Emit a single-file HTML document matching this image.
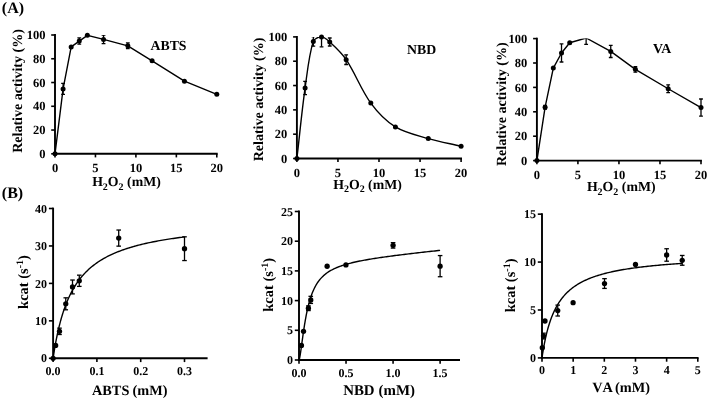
<!DOCTYPE html>
<html><head><meta charset="utf-8"><style>
html,body{margin:0;padding:0;background:#fff;overflow:hidden;}
svg{display:block;will-change:transform;}
svg text{font-family:"Liberation Serif", serif;font-weight:bold;fill:#000;stroke:none;text-rendering:geometricPrecision;}
svg text.nk{font-kerning:none;}
circle{stroke:none;}
</style></head><body>
<svg width="708" height="400" viewBox="0 0 708 400">
<rect width="708" height="400" fill="#fff"/>
<g stroke="#000" fill="#000">
<line x1="54.1" y1="153.8" x2="217.7" y2="153.8" stroke-width="1.9"/>
<line x1="55" y1="154.7" x2="55" y2="34.1" stroke-width="1.9"/>
<line x1="51.2" y1="153.8" x2="55" y2="153.8" stroke-width="1.6"/>
<text x="45.4" y="158" font-size="12.5" text-anchor="end" >0</text>
<line x1="51.2" y1="130.04" x2="55" y2="130.04" stroke-width="1.6"/>
<text x="45.4" y="134.24" font-size="12.5" text-anchor="end" >20</text>
<line x1="51.2" y1="106.28" x2="55" y2="106.28" stroke-width="1.6"/>
<text x="45.4" y="110.48" font-size="12.5" text-anchor="end" >40</text>
<line x1="51.2" y1="82.52" x2="55" y2="82.52" stroke-width="1.6"/>
<text x="45.4" y="86.72" font-size="12.5" text-anchor="end" >60</text>
<line x1="51.2" y1="58.76" x2="55" y2="58.76" stroke-width="1.6"/>
<text x="45.4" y="62.96" font-size="12.5" text-anchor="end" >80</text>
<line x1="51.2" y1="35" x2="55" y2="35" stroke-width="1.6"/>
<text x="45.4" y="39.2" font-size="12.5" text-anchor="end" >100</text>
<line x1="55" y1="153.8" x2="55" y2="157.4" stroke-width="1.6"/>
<text x="55" y="171.9" font-size="12.5" text-anchor="middle" >0</text>
<line x1="95.45" y1="153.8" x2="95.45" y2="157.4" stroke-width="1.6"/>
<text x="95.45" y="171.9" font-size="12.5" text-anchor="middle" >5</text>
<line x1="135.9" y1="153.8" x2="135.9" y2="157.4" stroke-width="1.6"/>
<text x="135.9" y="171.9" font-size="12.5" text-anchor="middle" >10</text>
<line x1="176.35" y1="153.8" x2="176.35" y2="157.4" stroke-width="1.6"/>
<text x="176.35" y="171.9" font-size="12.5" text-anchor="middle" >15</text>
<line x1="216.8" y1="153.8" x2="216.8" y2="157.4" stroke-width="1.6"/>
<text x="216.8" y="171.9" font-size="12.5" text-anchor="middle" >20</text>
<text transform="translate(22.3,91) rotate(-90)" font-size="14" text-anchor="middle">Relative activity (%)</text>
<text x="126.45" y="186.3" font-size="13.8" text-anchor="middle">H<tspan font-size="10" dy="3.6">2</tspan><tspan dy="-3.6">O</tspan><tspan font-size="10" dy="3.6">2</tspan><tspan dy="-3.6"> (mM)</tspan></text>
<clipPath id="c1"><rect x="45" y="35" width="181.8" height="128.8"/></clipPath>
<g clip-path="url(#c1)">
<polyline fill="none" stroke-width="1.4" stroke-linejoin="round" points="55,153.8 63.09,88.94 71.18,46.88 79.27,41.06 87.36,35.36 103.54,39.4 127.81,45.81 152.08,60.78 184.44,81.21 216.8,94.28"/>
<line x1="63.09" y1="83.47" x2="63.09" y2="94.4" stroke-width="1.3"/>
<line x1="61.19" y1="83.47" x2="64.99" y2="83.47" stroke-width="1.3"/>
<line x1="61.19" y1="94.4" x2="64.99" y2="94.4" stroke-width="1.3"/>
<line x1="79.27" y1="37.97" x2="79.27" y2="44.15" stroke-width="1.3"/>
<line x1="77.37" y1="37.97" x2="81.17" y2="37.97" stroke-width="1.3"/>
<line x1="77.37" y1="44.15" x2="81.17" y2="44.15" stroke-width="1.3"/>
<line x1="103.54" y1="35.12" x2="103.54" y2="43.67" stroke-width="1.3"/>
<line x1="101.64" y1="35.12" x2="105.44" y2="35.12" stroke-width="1.3"/>
<line x1="101.64" y1="43.67" x2="105.44" y2="43.67" stroke-width="1.3"/>
<line x1="127.81" y1="42.96" x2="127.81" y2="48.66" stroke-width="1.3"/>
<line x1="125.91" y1="42.96" x2="129.71" y2="42.96" stroke-width="1.3"/>
<line x1="125.91" y1="48.66" x2="129.71" y2="48.66" stroke-width="1.3"/>
</g>
<circle cx="55" cy="153.8" r="2.5"/>
<circle cx="63.09" cy="88.94" r="2.5"/>
<circle cx="71.18" cy="46.88" r="2.5"/>
<circle cx="79.27" cy="41.06" r="2.5"/>
<circle cx="87.36" cy="35.36" r="2.5"/>
<circle cx="103.54" cy="39.4" r="2.5"/>
<circle cx="127.81" cy="45.81" r="2.5"/>
<circle cx="152.08" cy="60.78" r="2.5"/>
<circle cx="184.44" cy="81.21" r="2.5"/>
<circle cx="216.8" cy="94.28" r="2.5"/>
<text x="150.5" y="50.1" font-size="13.8" text-anchor="start" >ABTS</text>
<line x1="296" y1="158.5" x2="462" y2="158.5" stroke-width="1.9"/>
<line x1="296.9" y1="159.4" x2="296.9" y2="36" stroke-width="1.9"/>
<line x1="293.1" y1="158.5" x2="296.9" y2="158.5" stroke-width="1.6"/>
<text x="287.3" y="162.7" font-size="12.5" text-anchor="end" >0</text>
<line x1="293.1" y1="134.18" x2="296.9" y2="134.18" stroke-width="1.6"/>
<text x="287.3" y="138.38" font-size="12.5" text-anchor="end" >20</text>
<line x1="293.1" y1="109.86" x2="296.9" y2="109.86" stroke-width="1.6"/>
<text x="287.3" y="114.06" font-size="12.5" text-anchor="end" >40</text>
<line x1="293.1" y1="85.54" x2="296.9" y2="85.54" stroke-width="1.6"/>
<text x="287.3" y="89.74" font-size="12.5" text-anchor="end" >60</text>
<line x1="293.1" y1="61.22" x2="296.9" y2="61.22" stroke-width="1.6"/>
<text x="287.3" y="65.42" font-size="12.5" text-anchor="end" >80</text>
<line x1="293.1" y1="36.9" x2="296.9" y2="36.9" stroke-width="1.6"/>
<text x="287.3" y="41.1" font-size="12.5" text-anchor="end" >100</text>
<line x1="296.9" y1="158.5" x2="296.9" y2="162.1" stroke-width="1.6"/>
<text x="296.9" y="176.6" font-size="12.5" text-anchor="middle" >0</text>
<line x1="337.95" y1="158.5" x2="337.95" y2="162.1" stroke-width="1.6"/>
<text x="337.95" y="176.6" font-size="12.5" text-anchor="middle" >5</text>
<line x1="379" y1="158.5" x2="379" y2="162.1" stroke-width="1.6"/>
<text x="379" y="176.6" font-size="12.5" text-anchor="middle" >10</text>
<line x1="420.05" y1="158.5" x2="420.05" y2="162.1" stroke-width="1.6"/>
<text x="420.05" y="176.6" font-size="12.5" text-anchor="middle" >15</text>
<line x1="461.1" y1="158.5" x2="461.1" y2="162.1" stroke-width="1.6"/>
<text x="461.1" y="176.6" font-size="12.5" text-anchor="middle" >20</text>
<text transform="translate(263.3,99.5) rotate(-90)" font-size="14" text-anchor="middle">Relative activity (%)</text>
<text x="367.5" y="188.6" font-size="13.8" text-anchor="middle">H<tspan font-size="10" dy="3.6">2</tspan><tspan dy="-3.6">O</tspan><tspan font-size="10" dy="3.6">2</tspan><tspan dy="-3.6"> (mM)</tspan></text>
<clipPath id="c2"><rect x="286.9" y="36.9" width="184.2" height="131.6"/></clipPath>
<g clip-path="url(#c2)">
<path d="M296.9,158.5 C299.64,134.99 301.82,111.4 305.11,87.97 C307.3,72.37 308.75,55.61 313.32,41.4 C314.22,38.59 318.84,36.8 321.53,36.9 C324.31,37 327.39,39.84 329.74,42.01 C335.6,47.42 341.71,53.01 346.16,59.64 C355.39,73.36 361.05,89.76 370.79,103.05 C377.47,112.18 385.92,121.02 395.42,126.88 C405.08,132.85 417.13,135.28 428.26,138.56 C439.03,141.73 450.15,143.66 461.1,146.22" fill="none" stroke-width="1.4"/>
<line x1="305.11" y1="81.28" x2="305.11" y2="94.66" stroke-width="1.3"/>
<line x1="303.21" y1="81.28" x2="307.01" y2="81.28" stroke-width="1.3"/>
<line x1="303.21" y1="94.66" x2="307.01" y2="94.66" stroke-width="1.3"/>
<line x1="313.32" y1="36.66" x2="313.32" y2="46.14" stroke-width="1.3"/>
<line x1="311.42" y1="36.66" x2="315.22" y2="36.66" stroke-width="1.3"/>
<line x1="311.42" y1="46.14" x2="315.22" y2="46.14" stroke-width="1.3"/>
<line x1="321.53" y1="26.93" x2="321.53" y2="46.87" stroke-width="1.3"/>
<line x1="319.63" y1="26.93" x2="323.43" y2="26.93" stroke-width="1.3"/>
<line x1="319.63" y1="46.87" x2="323.43" y2="46.87" stroke-width="1.3"/>
<line x1="329.74" y1="37.99" x2="329.74" y2="46.02" stroke-width="1.3"/>
<line x1="327.84" y1="37.99" x2="331.64" y2="37.99" stroke-width="1.3"/>
<line x1="327.84" y1="46.02" x2="331.64" y2="46.02" stroke-width="1.3"/>
<line x1="346.16" y1="54.78" x2="346.16" y2="64.5" stroke-width="1.3"/>
<line x1="344.26" y1="54.78" x2="348.06" y2="54.78" stroke-width="1.3"/>
<line x1="344.26" y1="64.5" x2="348.06" y2="64.5" stroke-width="1.3"/>
</g>
<circle cx="296.9" cy="158.5" r="2.5"/>
<circle cx="305.11" cy="87.97" r="2.5"/>
<circle cx="313.32" cy="41.4" r="2.5"/>
<circle cx="321.53" cy="36.9" r="2.5"/>
<circle cx="329.74" cy="42.01" r="2.5"/>
<circle cx="346.16" cy="59.64" r="2.5"/>
<circle cx="370.79" cy="103.05" r="2.5"/>
<circle cx="395.42" cy="126.88" r="2.5"/>
<circle cx="428.26" cy="138.56" r="2.5"/>
<circle cx="461.1" cy="146.22" r="2.5"/>
<text x="407" y="54" font-size="13.8" text-anchor="start" >NBD</text>
<line x1="536" y1="160.6" x2="701.9" y2="160.6" stroke-width="1.9"/>
<line x1="536.9" y1="161.5" x2="536.9" y2="37.7" stroke-width="1.9"/>
<line x1="533.1" y1="160.6" x2="536.9" y2="160.6" stroke-width="1.6"/>
<text x="527.3" y="164.8" font-size="12.5" text-anchor="end" >0</text>
<line x1="533.1" y1="136.2" x2="536.9" y2="136.2" stroke-width="1.6"/>
<text x="527.3" y="140.4" font-size="12.5" text-anchor="end" >20</text>
<line x1="533.1" y1="111.8" x2="536.9" y2="111.8" stroke-width="1.6"/>
<text x="527.3" y="116" font-size="12.5" text-anchor="end" >40</text>
<line x1="533.1" y1="87.4" x2="536.9" y2="87.4" stroke-width="1.6"/>
<text x="527.3" y="91.6" font-size="12.5" text-anchor="end" >60</text>
<line x1="533.1" y1="63" x2="536.9" y2="63" stroke-width="1.6"/>
<text x="527.3" y="67.2" font-size="12.5" text-anchor="end" >80</text>
<line x1="533.1" y1="38.6" x2="536.9" y2="38.6" stroke-width="1.6"/>
<text x="527.3" y="42.8" font-size="12.5" text-anchor="end" >100</text>
<line x1="536.9" y1="160.6" x2="536.9" y2="164.2" stroke-width="1.6"/>
<text x="536.9" y="178.7" font-size="12.5" text-anchor="middle" >0</text>
<line x1="577.92" y1="160.6" x2="577.92" y2="164.2" stroke-width="1.6"/>
<text x="577.92" y="178.7" font-size="12.5" text-anchor="middle" >5</text>
<line x1="618.95" y1="160.6" x2="618.95" y2="164.2" stroke-width="1.6"/>
<text x="618.95" y="178.7" font-size="12.5" text-anchor="middle" >10</text>
<line x1="659.98" y1="160.6" x2="659.98" y2="164.2" stroke-width="1.6"/>
<text x="659.98" y="178.7" font-size="12.5" text-anchor="middle" >15</text>
<line x1="701" y1="160.6" x2="701" y2="164.2" stroke-width="1.6"/>
<text x="701" y="178.7" font-size="12.5" text-anchor="middle" >20</text>
<text transform="translate(505.8,104.25) rotate(-90)" font-size="14" text-anchor="middle">Relative activity (%)</text>
<text x="621.2" y="191" font-size="13.8" text-anchor="middle">H<tspan font-size="10" dy="3.6">2</tspan><tspan dy="-3.6">O</tspan><tspan font-size="10" dy="3.6">2</tspan><tspan dy="-3.6"> (mM)</tspan></text>
<clipPath id="c3"><rect x="526.9" y="38.6" width="184.1" height="132"/></clipPath>
<g clip-path="url(#c3)">
<polyline fill="none" stroke-width="1.4" stroke-linejoin="round" points="536.9,160.6 545.11,107.16 553.31,68.12 561.51,53 569.72,42.75 586.13,37.99 610.75,51.41 635.36,69.34 668.18,88.74 701,107.53"/>
<line x1="545.11" y1="105.33" x2="545.11" y2="108.99" stroke-width="1.3"/>
<line x1="543.21" y1="105.33" x2="547" y2="105.33" stroke-width="1.3"/>
<line x1="543.21" y1="108.99" x2="547" y2="108.99" stroke-width="1.3"/>
<line x1="561.51" y1="43.97" x2="561.51" y2="62.02" stroke-width="1.3"/>
<line x1="559.62" y1="43.97" x2="563.41" y2="43.97" stroke-width="1.3"/>
<line x1="559.62" y1="62.02" x2="563.41" y2="62.02" stroke-width="1.3"/>
<line x1="586.13" y1="31.52" x2="586.13" y2="44.46" stroke-width="1.3"/>
<line x1="584.23" y1="31.52" x2="588.03" y2="31.52" stroke-width="1.3"/>
<line x1="584.23" y1="44.46" x2="588.03" y2="44.46" stroke-width="1.3"/>
<line x1="610.75" y1="45.31" x2="610.75" y2="57.51" stroke-width="1.3"/>
<line x1="608.85" y1="45.31" x2="612.64" y2="45.31" stroke-width="1.3"/>
<line x1="608.85" y1="57.51" x2="612.64" y2="57.51" stroke-width="1.3"/>
<line x1="635.36" y1="66.54" x2="635.36" y2="72.15" stroke-width="1.3"/>
<line x1="633.46" y1="66.54" x2="637.26" y2="66.54" stroke-width="1.3"/>
<line x1="633.46" y1="72.15" x2="637.26" y2="72.15" stroke-width="1.3"/>
<line x1="668.18" y1="84.84" x2="668.18" y2="92.65" stroke-width="1.3"/>
<line x1="666.28" y1="84.84" x2="670.08" y2="84.84" stroke-width="1.3"/>
<line x1="666.28" y1="92.65" x2="670.08" y2="92.65" stroke-width="1.3"/>
<line x1="701" y1="98.99" x2="701" y2="116.07" stroke-width="1.3"/>
<line x1="699.1" y1="98.99" x2="702.9" y2="98.99" stroke-width="1.3"/>
<line x1="699.1" y1="116.07" x2="702.9" y2="116.07" stroke-width="1.3"/>
</g>
<circle cx="536.9" cy="160.6" r="2.5"/>
<circle cx="545.11" cy="107.16" r="2.5"/>
<circle cx="553.31" cy="68.12" r="2.5"/>
<circle cx="561.51" cy="53" r="2.5"/>
<circle cx="569.72" cy="42.75" r="2.5"/>
<circle cx="610.75" cy="51.41" r="2.5"/>
<circle cx="635.36" cy="69.34" r="2.5"/>
<circle cx="668.18" cy="88.74" r="2.5"/>
<circle cx="701" cy="107.53" r="2.5"/>
<text x="653" y="53.3" font-size="13.8" text-anchor="start" >VA</text>
<line x1="52.2" y1="358.3" x2="207.6" y2="358.3" stroke-width="1.9"/>
<line x1="53.1" y1="359.2" x2="53.1" y2="207.6" stroke-width="1.9"/>
<line x1="48.9" y1="358.3" x2="53.1" y2="358.3" stroke-width="1.6"/>
<text x="47" y="362.4" font-size="12" text-anchor="end" >0</text>
<line x1="48.9" y1="320.85" x2="53.1" y2="320.85" stroke-width="1.6"/>
<text x="47" y="324.95" font-size="12" text-anchor="end" >10</text>
<line x1="48.9" y1="283.4" x2="53.1" y2="283.4" stroke-width="1.6"/>
<text x="47" y="287.5" font-size="12" text-anchor="end" >20</text>
<line x1="48.9" y1="245.95" x2="53.1" y2="245.95" stroke-width="1.6"/>
<text x="47" y="250.05" font-size="12" text-anchor="end" >30</text>
<line x1="48.9" y1="208.5" x2="53.1" y2="208.5" stroke-width="1.6"/>
<text x="47" y="212.6" font-size="12" text-anchor="end" >40</text>
<line x1="53.1" y1="358.3" x2="53.1" y2="362.1" stroke-width="1.6"/>
<text x="53.1" y="374.8" font-size="12" text-anchor="middle" >0.0</text>
<line x1="96.9" y1="358.3" x2="96.9" y2="362.1" stroke-width="1.6"/>
<text x="96.9" y="374.8" font-size="12" text-anchor="middle" >0.1</text>
<line x1="140.7" y1="358.3" x2="140.7" y2="362.1" stroke-width="1.6"/>
<text x="140.7" y="374.8" font-size="12" text-anchor="middle" >0.2</text>
<line x1="184.5" y1="358.3" x2="184.5" y2="362.1" stroke-width="1.6"/>
<text x="184.5" y="374.8" font-size="12" text-anchor="middle" >0.3</text>
<text transform="translate(28.3,282) rotate(-90)" font-size="14.5" text-anchor="middle">kcat (s<tspan font-size="10" dy="-5.5">-1</tspan><tspan dy="5.5">)</tspan></text>
<text class="nk" x="92" y="394.9" font-size="14.3" text-anchor="start">ABTS<tspan x="132.5">(mM)</tspan></text>
<polyline fill="none" stroke-width="1.4" points="53.1,358.3 53.11,358.27 53.12,358.16 53.15,357.99 53.18,357.74 53.23,357.43 53.28,357.05 53.35,356.61 53.43,356.1 53.52,355.53 53.61,354.89 53.72,354.2 53.84,353.44 53.97,352.63 54.11,351.77 54.25,350.85 54.41,349.89 54.58,348.88 54.76,347.82 54.95,346.73 55.15,345.59 55.36,344.41 55.58,343.21 55.82,341.97 56.06,340.7 56.31,339.4 56.57,338.08 56.84,336.74 57.12,335.38 57.42,334 57.72,332.61 58.03,331.2 58.36,329.78 58.69,328.36 59.03,326.93 59.39,325.5 59.75,324.06 60.13,322.62 60.51,321.18 60.91,319.74 61.31,318.31 61.73,316.88 62.15,315.46 62.59,314.05 63.04,312.64 63.49,311.25 63.96,309.86 64.44,308.49 64.93,307.13 65.42,305.78 65.93,304.44 66.45,303.12 66.98,301.82 67.52,300.53 68.07,299.25 68.63,297.99 69.2,296.75 69.78,295.52 70.37,294.31 70.97,293.12 71.58,291.94 72.2,290.79 72.83,289.65 73.47,288.52 74.12,287.42 74.79,286.33 75.46,285.26 76.14,284.2 76.83,283.17 77.54,282.15 78.25,281.15 78.97,280.16 79.71,279.19 80.45,278.24 81.21,277.31 81.97,276.39 82.75,275.49 83.53,274.6 84.33,273.73 85.13,272.88 85.95,272.04 86.78,271.21 87.61,270.4 88.46,269.61 89.32,268.83 90.18,268.06 91.06,267.31 91.95,266.57 92.85,265.85 93.76,265.14 94.68,264.44 95.6,263.75 96.54,263.08 97.49,262.42 98.45,261.77 99.42,261.13 100.4,260.51 101.39,259.9 102.4,259.3 103.41,258.7 104.43,258.12 105.46,257.56 106.5,257 107.55,256.45 108.62,255.91 109.69,255.38 110.77,254.86 111.87,254.35 112.97,253.85 114.08,253.36 115.21,252.88 116.34,252.41 117.49,251.94 118.64,251.48 119.81,251.04 120.98,250.6 122.17,250.16 123.36,249.74 124.57,249.32 125.79,248.91 127.01,248.51 128.25,248.11 129.5,247.72 130.75,247.34 132.02,246.96 133.3,246.6 134.59,246.23 135.89,245.88 137.2,245.53 138.52,245.18 139.84,244.84 141.18,244.51 142.53,244.19 143.89,243.86 145.26,243.55 146.65,243.24 148.04,242.93 149.44,242.63 150.85,242.34 152.27,242.05 153.7,241.76 155.15,241.48 156.6,241.2 158.06,240.93 159.53,240.66 161.02,240.4 162.51,240.14 164.01,239.89 165.53,239.64 167.05,239.39 168.59,239.15 170.13,238.91 171.69,238.67 173.25,238.44 174.83,238.21 176.42,237.99 178.01,237.77 179.62,237.55 181.24,237.34 182.86,237.13 184.5,236.92"/>
<line x1="59.49" y1="328.15" x2="59.49" y2="334.52" stroke-width="1.3"/>
<line x1="57.19" y1="328.15" x2="61.79" y2="328.15" stroke-width="1.3"/>
<line x1="57.19" y1="334.52" x2="61.79" y2="334.52" stroke-width="1.3"/>
<line x1="65.76" y1="297.82" x2="65.76" y2="309.8" stroke-width="1.3"/>
<line x1="63.46" y1="297.82" x2="68.06" y2="297.82" stroke-width="1.3"/>
<line x1="63.46" y1="309.8" x2="68.06" y2="309.8" stroke-width="1.3"/>
<line x1="72.5" y1="280.03" x2="72.5" y2="293.89" stroke-width="1.3"/>
<line x1="70.2" y1="280.03" x2="74.8" y2="280.03" stroke-width="1.3"/>
<line x1="70.2" y1="293.89" x2="74.8" y2="293.89" stroke-width="1.3"/>
<line x1="79.29" y1="275.16" x2="79.29" y2="286.4" stroke-width="1.3"/>
<line x1="76.99" y1="275.16" x2="81.59" y2="275.16" stroke-width="1.3"/>
<line x1="76.99" y1="286.4" x2="81.59" y2="286.4" stroke-width="1.3"/>
<line x1="118.71" y1="230.03" x2="118.71" y2="246.14" stroke-width="1.3"/>
<line x1="116.41" y1="230.03" x2="121.01" y2="230.03" stroke-width="1.3"/>
<line x1="116.41" y1="246.14" x2="121.01" y2="246.14" stroke-width="1.3"/>
<line x1="184.5" y1="236.81" x2="184.5" y2="260.56" stroke-width="1.3"/>
<line x1="182.2" y1="236.81" x2="186.8" y2="236.81" stroke-width="1.3"/>
<line x1="182.2" y1="260.56" x2="186.8" y2="260.56" stroke-width="1.3"/>
<circle cx="53.1" cy="358.3" r="2.65"/>
<circle cx="55.64" cy="345.42" r="2.65"/>
<circle cx="59.49" cy="331.34" r="2.65"/>
<circle cx="65.76" cy="303.81" r="2.65"/>
<circle cx="72.5" cy="286.96" r="2.65"/>
<circle cx="79.29" cy="280.78" r="2.65"/>
<circle cx="118.71" cy="238.09" r="2.65"/>
<circle cx="184.5" cy="248.68" r="2.65"/>
<line x1="298.1" y1="360" x2="460" y2="360" stroke-width="1.9"/>
<line x1="299" y1="360.9" x2="299" y2="210.6" stroke-width="1.9"/>
<line x1="294.8" y1="360" x2="299" y2="360" stroke-width="1.6"/>
<text x="292.9" y="364.1" font-size="12" text-anchor="end" >0</text>
<line x1="294.8" y1="330.3" x2="299" y2="330.3" stroke-width="1.6"/>
<text x="292.9" y="334.4" font-size="12" text-anchor="end" >5</text>
<line x1="294.8" y1="300.6" x2="299" y2="300.6" stroke-width="1.6"/>
<text x="292.9" y="304.7" font-size="12" text-anchor="end" >10</text>
<line x1="294.8" y1="270.9" x2="299" y2="270.9" stroke-width="1.6"/>
<text x="292.9" y="275" font-size="12" text-anchor="end" >15</text>
<line x1="294.8" y1="241.2" x2="299" y2="241.2" stroke-width="1.6"/>
<text x="292.9" y="245.3" font-size="12" text-anchor="end" >20</text>
<line x1="294.8" y1="211.5" x2="299" y2="211.5" stroke-width="1.6"/>
<text x="292.9" y="215.6" font-size="12" text-anchor="end" >25</text>
<line x1="299" y1="360" x2="299" y2="363.8" stroke-width="1.6"/>
<text x="299" y="376.5" font-size="12" text-anchor="middle" >0.0</text>
<line x1="346.03" y1="360" x2="346.03" y2="363.8" stroke-width="1.6"/>
<text x="346.03" y="376.5" font-size="12" text-anchor="middle" >0.5</text>
<line x1="393.07" y1="360" x2="393.07" y2="363.8" stroke-width="1.6"/>
<text x="393.07" y="376.5" font-size="12" text-anchor="middle" >1.0</text>
<line x1="440.11" y1="360" x2="440.11" y2="363.8" stroke-width="1.6"/>
<text x="440.11" y="376.5" font-size="12" text-anchor="middle" >1.5</text>
<text transform="translate(273.3,284.8) rotate(-90)" font-size="14.5" text-anchor="middle">kcat (s<tspan font-size="10" dy="-5.5">-1</tspan><tspan dy="5.5">)</tspan></text>
<text class="nk" x="343.2" y="394.8" font-size="14.9" text-anchor="start">NBD<tspan x="378.6">(mM)</tspan></text>
<polyline fill="none" stroke-width="1.4" points="299,360 299.01,360 299.02,359.99 299.05,359.95 299.09,359.89 299.14,359.78 299.2,359.63 299.27,359.42 299.35,359.14 299.45,358.78 299.55,358.33 299.67,357.79 299.79,357.16 299.93,356.41 300.08,355.56 300.24,354.59 300.41,353.51 300.59,352.32 300.79,351.01 300.99,349.59 301.2,348.06 301.43,346.43 301.67,344.7 301.92,342.89 302.17,341 302.44,339.04 302.73,337.02 303.02,334.95 303.32,332.84 303.64,330.7 303.96,328.54 304.3,326.38 304.64,324.21 305,322.06 305.37,319.92 305.75,317.81 306.14,315.72 306.55,313.68 306.96,311.68 307.38,309.72 307.82,307.81 308.27,305.95 308.72,304.15 309.19,302.4 309.67,300.71 310.16,299.07 310.66,297.5 311.18,295.98 311.7,294.51 312.23,293.1 312.78,291.75 313.34,290.45 313.9,289.2 314.48,287.99 315.07,286.84 315.67,285.74 316.29,284.68 316.91,283.66 317.54,282.68 318.19,281.75 318.84,280.85 319.51,279.99 320.19,279.16 320.88,278.37 321.58,277.61 322.29,276.88 323.01,276.18 323.74,275.5 324.49,274.85 325.24,274.23 326.01,273.63 326.79,273.05 327.57,272.49 328.37,271.95 329.18,271.43 330,270.93 330.84,270.45 331.68,269.99 332.53,269.53 333.4,269.1 334.28,268.68 335.16,268.27 336.06,267.87 336.97,267.49 337.89,267.11 338.82,266.75 339.77,266.4 340.72,266.05 341.68,265.72 342.66,265.4 343.65,265.08 344.64,264.77 345.65,264.47 346.67,264.17 347.7,263.88 348.75,263.6 349.8,263.33 350.86,263.06 351.94,262.79 353.02,262.53 354.12,262.28 355.23,262.03 356.35,261.78 357.48,261.54 358.62,261.3 359.77,261.06 360.93,260.83 362.11,260.6 363.29,260.38 364.49,260.16 365.69,259.94 366.91,259.72 368.14,259.51 369.38,259.3 370.63,259.09 371.9,258.88 373.17,258.67 374.45,258.47 375.75,258.27 377.05,258.07 378.37,257.87 379.7,257.67 381.04,257.47 382.39,257.28 383.75,257.08 385.12,256.89 386.51,256.7 387.9,256.51 389.31,256.32 390.72,256.13 392.15,255.94 393.59,255.75 395.04,255.56 396.5,255.38 397.97,255.19 399.45,255 400.95,254.82 402.45,254.63 403.97,254.45 405.5,254.26 407.03,254.08 408.58,253.89 410.14,253.71 411.71,253.52 413.3,253.34 414.89,253.15 416.49,252.97 418.11,252.78 419.73,252.6 421.37,252.41 423.02,252.23 424.68,252.04 426.35,251.86 428.03,251.67 429.72,251.49 431.42,251.3 433.14,251.11 434.86,250.93 436.6,250.74 438.35,250.55 440.11,250.36"/>
<line x1="308.41" y1="305.83" x2="308.41" y2="310.58" stroke-width="1.3"/>
<line x1="306.11" y1="305.83" x2="310.71" y2="305.83" stroke-width="1.3"/>
<line x1="306.11" y1="310.58" x2="310.71" y2="310.58" stroke-width="1.3"/>
<line x1="310.76" y1="296.32" x2="310.76" y2="303.45" stroke-width="1.3"/>
<line x1="308.46" y1="296.32" x2="313.06" y2="296.32" stroke-width="1.3"/>
<line x1="308.46" y1="303.45" x2="313.06" y2="303.45" stroke-width="1.3"/>
<line x1="393.07" y1="242.63" x2="393.07" y2="248.09" stroke-width="1.3"/>
<line x1="390.77" y1="242.63" x2="395.37" y2="242.63" stroke-width="1.3"/>
<line x1="390.77" y1="248.09" x2="395.37" y2="248.09" stroke-width="1.3"/>
<line x1="440.11" y1="255.57" x2="440.11" y2="276.72" stroke-width="1.3"/>
<line x1="437.81" y1="255.57" x2="442.41" y2="255.57" stroke-width="1.3"/>
<line x1="437.81" y1="276.72" x2="442.41" y2="276.72" stroke-width="1.3"/>
<circle cx="301.45" cy="345.45" r="2.65"/>
<circle cx="303.52" cy="331.31" r="2.65"/>
<circle cx="308.41" cy="308.2" r="2.65"/>
<circle cx="310.76" cy="299.89" r="2.65"/>
<circle cx="327.13" cy="266.27" r="2.65"/>
<circle cx="345.94" cy="264.96" r="2.65"/>
<circle cx="393.07" cy="245.36" r="2.65"/>
<circle cx="440.11" cy="266.15" r="2.65"/>
<line x1="541.1" y1="357.9" x2="698.6" y2="357.9" stroke-width="1.9"/>
<line x1="542" y1="358.8" x2="542" y2="213.25" stroke-width="1.9"/>
<line x1="537.8" y1="357.9" x2="542" y2="357.9" stroke-width="1.6"/>
<text x="535.9" y="362" font-size="12" text-anchor="end" >0</text>
<line x1="537.8" y1="309.98" x2="542" y2="309.98" stroke-width="1.6"/>
<text x="535.9" y="314.08" font-size="12" text-anchor="end" >5</text>
<line x1="537.8" y1="262.07" x2="542" y2="262.07" stroke-width="1.6"/>
<text x="535.9" y="266.17" font-size="12" text-anchor="end" >10</text>
<line x1="537.8" y1="214.15" x2="542" y2="214.15" stroke-width="1.6"/>
<text x="535.9" y="218.25" font-size="12" text-anchor="end" >15</text>
<line x1="542" y1="357.9" x2="542" y2="361.7" stroke-width="1.6"/>
<text x="542" y="374.4" font-size="12" text-anchor="middle" >0</text>
<line x1="573.16" y1="357.9" x2="573.16" y2="361.7" stroke-width="1.6"/>
<text x="573.16" y="374.4" font-size="12" text-anchor="middle" >1</text>
<line x1="604.32" y1="357.9" x2="604.32" y2="361.7" stroke-width="1.6"/>
<text x="604.32" y="374.4" font-size="12" text-anchor="middle" >2</text>
<line x1="635.48" y1="357.9" x2="635.48" y2="361.7" stroke-width="1.6"/>
<text x="635.48" y="374.4" font-size="12" text-anchor="middle" >3</text>
<line x1="666.64" y1="357.9" x2="666.64" y2="361.7" stroke-width="1.6"/>
<text x="666.64" y="374.4" font-size="12" text-anchor="middle" >4</text>
<line x1="697.8" y1="357.9" x2="697.8" y2="361.7" stroke-width="1.6"/>
<text x="697.8" y="374.4" font-size="12" text-anchor="middle" >5</text>
<text transform="translate(515.3,285.4) rotate(-90)" font-size="14.5" text-anchor="middle">kcat (s<tspan font-size="10" dy="-5.5">-1</tspan><tspan dy="5.5">)</tspan></text>
<text class="nk" x="592.3" y="392.3" font-size="14.3" text-anchor="start">VA<tspan x="615.1">(mM)</tspan></text>
<polyline fill="none" stroke-width="1.4" points="542,357.9 542.01,357.86 542.02,357.75 542.05,357.56 542.09,357.3 542.14,356.96 542.2,356.55 542.27,356.07 542.35,355.53 542.44,354.92 542.55,354.24 542.66,353.5 542.79,352.71 542.93,351.86 543.07,350.96 543.23,350.01 543.4,349.02 543.58,347.98 543.77,346.9 543.98,345.79 544.19,344.65 544.42,343.48 544.65,342.28 544.9,341.07 545.15,339.83 545.42,338.57 545.7,337.31 545.99,336.03 546.29,334.75 546.61,333.45 546.93,332.16 547.26,330.87 547.61,329.57 547.96,328.28 548.33,327 548.71,325.72 549.1,324.45 549.5,323.19 549.91,321.94 550.33,320.71 550.76,319.49 551.21,318.28 551.66,317.08 552.13,315.9 552.6,314.74 553.09,313.6 553.59,312.47 554.1,311.36 554.62,310.27 555.15,309.2 555.69,308.14 556.25,307.11 556.81,306.09 557.39,305.09 557.97,304.12 558.57,303.16 559.18,302.21 559.8,301.29 560.43,300.39 561.07,299.5 561.72,298.64 562.38,297.79 563.05,296.96 563.74,296.15 564.44,295.35 565.14,294.57 565.86,293.81 566.59,293.06 567.33,292.33 568.08,291.62 568.84,290.92 569.61,290.24 570.39,289.57 571.19,288.92 571.99,288.28 572.81,287.66 573.64,287.05 574.48,286.45 575.32,285.87 576.18,285.3 577.05,284.74 577.94,284.2 578.83,283.66 579.73,283.14 580.65,282.63 581.57,282.13 582.51,281.65 583.46,281.17 584.42,280.7 585.39,280.25 586.37,279.8 587.36,279.36 588.36,278.94 589.37,278.52 590.4,278.11 591.43,277.71 592.48,277.32 593.54,276.94 594.6,276.56 595.68,276.19 596.77,275.84 597.87,275.48 598.99,275.14 600.11,274.8 601.24,274.47 602.39,274.15 603.54,273.83 604.71,273.52 605.89,273.22 607.08,272.92 608.28,272.63 609.49,272.35 610.71,272.07 611.94,271.79 613.18,271.53 614.44,271.26 615.7,271 616.98,270.75 618.27,270.5 619.56,270.26 620.87,270.02 622.19,269.79 623.52,269.56 624.87,269.34 626.22,269.12 627.58,268.9 628.96,268.69 630.34,268.48 631.74,268.28 633.15,268.08 634.57,267.88 636,267.69 637.44,267.5 638.89,267.31 640.35,267.13 641.82,266.95 643.31,266.78 644.8,266.6 646.31,266.43 647.83,266.27 649.36,266.1 650.9,265.94 652.45,265.79 654.01,265.63 655.58,265.48 657.16,265.33 658.76,265.18 660.36,265.04 661.98,264.9 663.6,264.76 665.24,264.62 666.89,264.48 668.55,264.35 670.22,264.22 671.9,264.09 673.59,263.97 675.3,263.84 677.01,263.72 678.74,263.6 680.47,263.48 682.22,263.37"/>
<line x1="543.5" y1="333.18" x2="543.5" y2="338.93" stroke-width="1.3"/>
<line x1="541.2" y1="333.18" x2="545.8" y2="333.18" stroke-width="1.3"/>
<line x1="541.2" y1="338.93" x2="545.8" y2="338.93" stroke-width="1.3"/>
<line x1="557.74" y1="305.1" x2="557.74" y2="316.02" stroke-width="1.3"/>
<line x1="555.44" y1="305.1" x2="560.04" y2="305.1" stroke-width="1.3"/>
<line x1="555.44" y1="316.02" x2="560.04" y2="316.02" stroke-width="1.3"/>
<line x1="604.51" y1="278.65" x2="604.51" y2="288.42" stroke-width="1.3"/>
<line x1="602.21" y1="278.65" x2="606.81" y2="278.65" stroke-width="1.3"/>
<line x1="602.21" y1="288.42" x2="606.81" y2="288.42" stroke-width="1.3"/>
<line x1="666.64" y1="248.75" x2="666.64" y2="261.21" stroke-width="1.3"/>
<line x1="664.34" y1="248.75" x2="668.94" y2="248.75" stroke-width="1.3"/>
<line x1="664.34" y1="261.21" x2="668.94" y2="261.21" stroke-width="1.3"/>
<line x1="682.22" y1="255.46" x2="682.22" y2="265.23" stroke-width="1.3"/>
<line x1="679.92" y1="255.46" x2="684.52" y2="255.46" stroke-width="1.3"/>
<line x1="679.92" y1="265.23" x2="684.52" y2="265.23" stroke-width="1.3"/>
<circle cx="542.31" cy="347.65" r="2.65"/>
<circle cx="543.5" cy="336.05" r="2.65"/>
<circle cx="544.99" cy="321.01" r="2.65"/>
<circle cx="557.74" cy="310.56" r="2.65"/>
<circle cx="573.1" cy="302.7" r="2.65"/>
<circle cx="604.51" cy="283.54" r="2.65"/>
<circle cx="635.48" cy="264.47" r="2.65"/>
<circle cx="666.64" cy="254.98" r="2.65"/>
<circle cx="682.22" cy="260.35" r="2.65"/>
<text x="1.8" y="13.1" font-size="16" text-anchor="start" >(A)</text>
<text x="1.8" y="197.6" font-size="16" text-anchor="start" >(B)</text>
</g>
</svg>
</body></html>
